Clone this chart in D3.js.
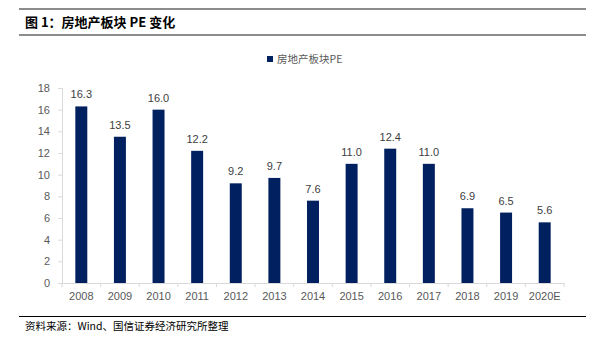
<!DOCTYPE html>
<html><head><meta charset="utf-8">
<script src="https://cdn.jsdelivr.net/npm/d3@7"></script>
<style>body{margin:0;background:#fff;}svg{display:block;}</style>
</head><body>
<svg id="c" width="592" height="337"></svg>
<script>
const categories = ["2008","2009","2010","2011","2012","2013","2014","2015","2016","2017","2018","2019","2020E"];
const peValues = [16.3,13.5,16.0,12.2,9.2,9.7,7.6,11.0,12.4,11.0,6.9,6.5,5.6];
const yTicks = [0,2,4,6,8,10,12,14,16,18];
const seriesName = "房地产板块PE";
const titleText = "图 1：房地产板块 PE 变化";
const sourceText = "资料来源：Wind、国信证券经济研究所整理";

const svg = d3.select("#c");
const font = "Arial, 'Liberation Sans', 'Noto Sans CJK SC', sans-serif";
const cjk = "'Noto Sans CJK SC', sans-serif";

// frame lines
svg.append("line").attr("x1",19).attr("x2",586).attr("y1",9).attr("y2",9).attr("stroke","#8c8c8c").attr("stroke-width",2);
svg.append("line").attr("x1",19).attr("x2",586).attr("y1",35).attr("y2",35).attr("stroke","#8c8c8c").attr("stroke-width",2);
svg.append("text").attr("x",25).attr("y",27).attr("font-family",cjk).attr("font-weight","bold").attr("font-size",13).attr("fill","#000").text(titleText);
svg.append("line").attr("x1",19).attr("x2",586).attr("y1",316.5).attr("y2",316.5).attr("stroke","#000").attr("stroke-width",1);
svg.append("text").attr("x",25).attr("y",330).attr("font-family",cjk).attr("font-size",10.5).attr("fill","#000").text(sourceText);

const x = d3.scaleBand().domain(categories).range([62,564]).paddingInner(0.69).paddingOuter(0.345);
const y = d3.scaleLinear().domain([0,18]).range([283,88]);

// y axis
const ya = svg.append("g").attr("transform","translate(62,0)")
  .call(d3.axisLeft(y).tickValues(yTicks).tickSize(4).tickPadding(8).tickFormat(d3.format("d")));
ya.select(".domain").attr("stroke","#d9d9d9");
ya.selectAll(".tick line").attr("stroke","#d9d9d9");
ya.selectAll("text").attr("font-family",font).attr("font-size",11).attr("fill","#595959");

// x axis
const xa = svg.append("g").attr("transform","translate(0,283)")
  .call(d3.axisBottom(x).tickSize(0).tickPadding(9));
xa.select(".domain").attr("stroke","#d9d9d9");
xa.selectAll("text").attr("font-family",font).attr("font-size",11).attr("fill","#595959");
// category separators
const step = x.step();
svg.append("g").selectAll("line").data(d3.range(categories.length+1)).join("line")
  .attr("x1",i=>62+i*step).attr("x2",i=>62+i*step).attr("y1",283).attr("y2",287).attr("stroke","#d9d9d9");

// bars
svg.append("g").selectAll("rect").data(peValues).join("rect")
  .attr("x",(d,i)=>x(categories[i])).attr("width",x.bandwidth())
  .attr("y",d=>y(d)).attr("height",d=>y(0)-y(d)).attr("fill","#002060");

svg.append("g").selectAll("text").data(peValues).join("text")
  .attr("x",(d,i)=>x(categories[i])+x.bandwidth()/2).attr("y",d=>y(d)-8)
  .attr("text-anchor","middle").attr("font-family",font).attr("font-size",11).attr("fill","#404040")
  .text(d=>d.toFixed(1));

// legend
svg.append("rect").attr("x",267).attr("y",56).attr("width",6).attr("height",6).attr("fill","#002060");
svg.append("text").attr("x",277).attr("y",63).attr("font-family",cjk).attr("font-size",10.5).attr("fill","#595959").text(seriesName);
</script>
</body></html>
